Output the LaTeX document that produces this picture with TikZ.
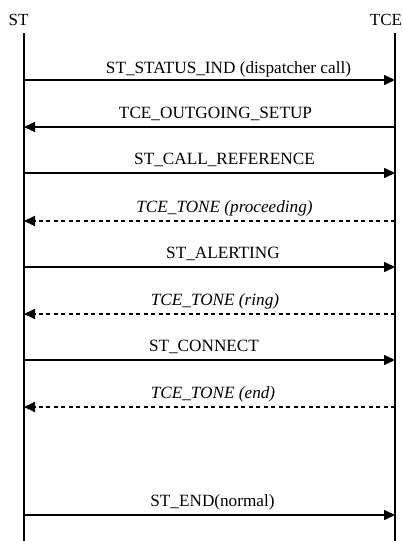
\documentclass[tikz,border=0pt]{standalone}
\usepackage{fontspec}
\setmainfont{Liberation Serif}
\usetikzlibrary{arrows.meta}

\tikzset{
  lifeline/.style={line width=2.2pt, black},
  msg/.style={line width=1.6pt, black, -{Triangle[length=11pt,width=10pt]}},
  reply/.style={msg, line width=1.9pt, dash pattern=on 4pt off 3.5pt},
  msglabel/.style={anchor=base, inner sep=0pt, font=\fontsize{17.2}{20}\selectfont},
  partlabel/.style={anchor=base, inner sep=0pt, font=\fontsize{17}{20}\selectfont}
}

\begin{document}
\begin{tikzpicture}[x=1pt, y=-1pt]
  \useasboundingbox (0,0) rectangle (403,541);

  % participants
  \node[partlabel] (stlabel)  at (18.5,25) {ST};
  \node[partlabel] (tcelabel) at (386,25) {TCE};

  \coordinate (sttop) at (24,33);
  \coordinate (stbot) at (24,541);
  \coordinate (tcetop) at (395,33);
  \coordinate (tcebot) at (395,541);
  \draw[lifeline] (sttop) -- (stbot);
  \draw[lifeline] (tcetop) -- (tcebot);

  % message anchors on both lifelines
  \foreach \i/\y in {1/80, 2/127, 3/173, 4/221, 5/267, 6/314, 7/360, 8/407, 9/515} {
    \coordinate (s\i) at (24,\y);
    \coordinate (t\i) at (395,\y);
  }

  % messages
  \draw[msg]   (s1) -- (t1);
  \node[msglabel] (m1) at (228.5,73) {ST\_STATUS\_IND (dispatcher call)};

  \draw[msg]   (t2) -- (s2);
  \node[msglabel] (m2) at (215.5,118) {TCE\_OUTGOING\_SETUP};

  \draw[msg]   (s3) -- (t3);
  \node[msglabel] (m3) at (224.5,164) {ST\_CALL\_REFERENCE};

  \draw[reply] (t4) -- (s4);
  \node[msglabel] (m4) at (224.5,212) {\itshape TCE\_TONE (proceeding)};

  \draw[msg]   (s5) -- (t5);
  \node[msglabel] (m5) at (223,258) {ST\_ALERTING};

  \draw[reply] (t6) -- (s6);
  \node[msglabel] (m6) at (215,305) {\itshape TCE\_TONE (ring)};

  \draw[msg]   (s7) -- (t7);
  \node[msglabel] (m7) at (204,351) {ST\_CONNECT};

  \draw[reply] (t8) -- (s8);
  \node[msglabel] (m8) at (213,398) {\itshape TCE\_TONE (end)};

  \draw[msg]   (s9) -- (t9);
  \node[msglabel] (m9) at (212.5,506) {ST\_END(normal)};
\end{tikzpicture}
\end{document}
